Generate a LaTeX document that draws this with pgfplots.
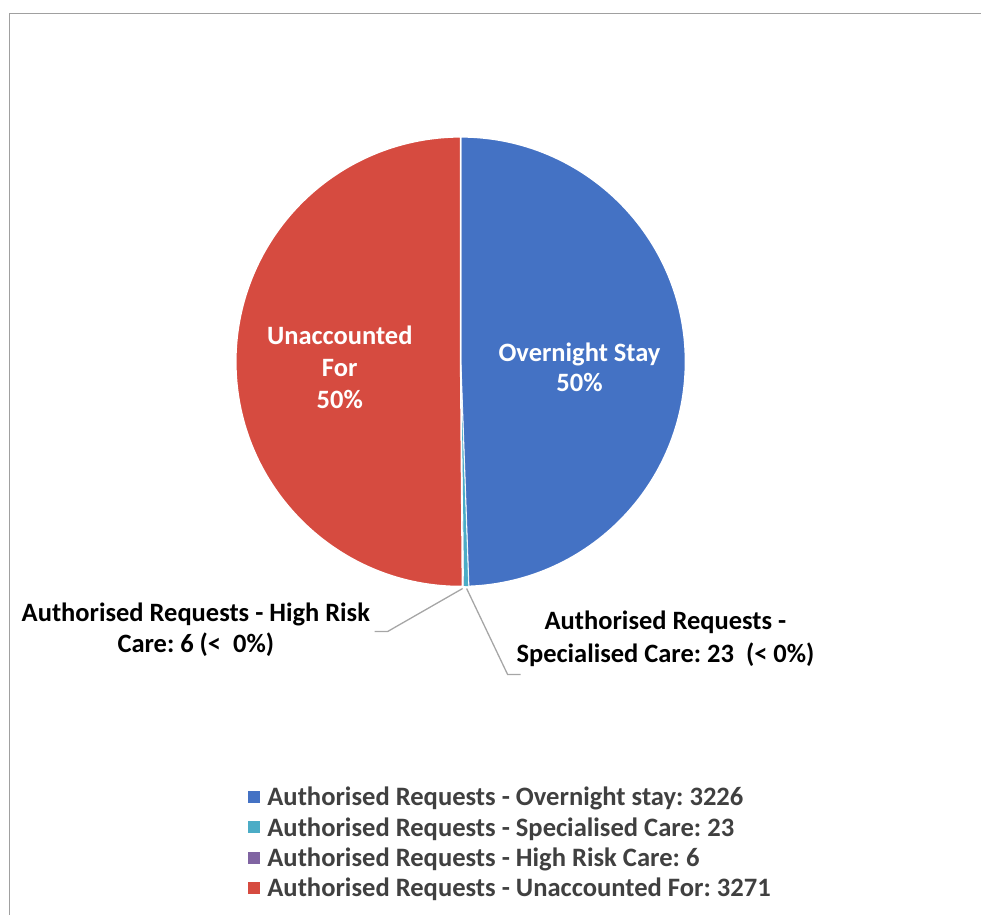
\documentclass[border=0pt]{standalone}
\usepackage{pgfplots}
\usepackage{pgfplotstable}
\pgfplotsset{compat=1.18}
\usepackage{fontspec}
\setmainfont{Carlito}
\frenchspacing

\definecolor{ovBlue}{HTML}{4472C4}
\definecolor{spTeal}{HTML}{4BACC6}
\definecolor{hrPurple}{HTML}{8064A2}
\definecolor{unRed}{HTML}{D64B40}
\definecolor{legendGray}{HTML}{404040}
\definecolor{leaderGray}{HTML}{A6A6A6}
\definecolor{frameGray}{HTML}{A0A0A0}

% Authorised requests by category
\pgfplotstableread{
value
3226
23
6
3271
}\piedata

\pgfplotstablegetelem{0}{value}\of\piedata \pgfmathsetmacro\vA{\pgfplotsretval}
\pgfplotstablegetelem{1}{value}\of\piedata \pgfmathsetmacro\vB{\pgfplotsretval}
\pgfplotstablegetelem{2}{value}\of\piedata \pgfmathsetmacro\vC{\pgfplotsretval}
\pgfplotstablegetelem{3}{value}\of\piedata \pgfmathsetmacro\vD{\pgfplotsretval}
\pgfmathsetmacro\total{\vA+\vB+\vC+\vD}
% slice boundaries, clockwise from 12 o'clock
\pgfmathsetmacro\aA{90}
\pgfmathsetmacro\aB{\aA-360*(\vA/\total)}
\pgfmathsetmacro\aC{\aB-360*(\vB/\total)}
\pgfmathsetmacro\aD{\aC-360*(\vC/\total)}
\pgfmathsetmacro\aE{\aD-360*(\vD/\total)}

\newcommand\pieR{225pt}

\begin{document}
\begin{tikzpicture}
\begin{axis}[
  x=1pt, y=1pt,
  xmin=0, xmax=982, ymin=0, ymax=916,
  hide axis, clip=false,
  anchor=origin, at={(0,0)},
  legend cell align=left,
  legend image code/.code={\fill[#1] (0pt,-3pt) rectangle (11pt,8pt);},
  legend style={
    draw=none, fill=none, inner sep=0pt,
    at={(axis cs:248,129)}, anchor=north west,
    font=\fontsize{26.6}{30}\selectfont\bfseries,
    text=legendGray,
    row sep=5.5pt,
    column sep=8pt,
    nodes={inner sep=0pt, text height=19pt, text depth=6pt},
  },
]
\path (axis cs:0,0) rectangle (axis cs:982,916);

% frame
\draw[frameGray, line width=1.6pt] (axis cs:9.5,0) -- (axis cs:9.5,902.5) -- (axis cs:982,902.5);

% slices
\fill[ovBlue, draw=white, line width=1.5pt, line join=round]
  (axis cs:461,554) -- ++(\aA:\pieR) arc[start angle=\aA, end angle=\aB, radius=\pieR] -- cycle;
\fill[spTeal, draw=white, line width=0.6pt, line join=round]
  (axis cs:461,554) -- ++(\aB:\pieR) arc[start angle=\aB, end angle=\aC, radius=\pieR] -- cycle;
\fill[hrPurple, draw=white, line width=0.6pt, line join=round]
  (axis cs:461,554) -- ++(\aC:\pieR) arc[start angle=\aC, end angle=\aD, radius=\pieR] -- cycle;
\fill[unRed, draw=white, line width=1.5pt, line join=round]
  (axis cs:461,554) -- ++(\aD:\pieR) arc[start angle=\aD, end angle=\aE, radius=\pieR] -- cycle;

% legend entries
\addlegendimage{ovBlue}
\addlegendentry{Authorised Requests - Overnight stay: 3226}
\addlegendimage{spTeal}
\addlegendentry{Authorised Requests - Specialised Care: 23}
\addlegendimage{hrPurple}
\addlegendentry{Authorised Requests - High Risk Care: 6}
\addlegendimage{unRed}
\addlegendentry{Authorised Requests - Unaccounted For: 3271}

% in-slice labels
\node[white, font=\fontsize{26.5}{30}\selectfont\bfseries, align=center]
  at (axis cs:580,548) {Overnight Stay\\50\%};
\node[white, font=\fontsize{26.5}{32}\selectfont\bfseries, align=center]
  at (axis cs:340,548) {Unaccounted\\For\\50\%};

% leader lines
\draw[leaderGray, line width=1.3pt] (axis cs:463,327) -- (axis cs:388,284) -- (axis cs:375,284);
\draw[leaderGray, line width=1.3pt] (axis cs:467,327) -- (axis cs:508,241) -- (axis cs:521,241);

% outside labels
\node[black, font=\fontsize{26.5}{31}\selectfont\bfseries, align=center]
  at (axis cs:196,286) {Authorised Requests - High Risk\\Care: 6 (<\ \ 0\%)};
\node[black, font=\fontsize{26.5}{33}\selectfont\bfseries, align=center]
  at (axis cs:666,277) {Authorised Requests -\\Specialised Care: 23\ \ (< 0\%)};
\end{axis}
\end{tikzpicture}
\end{document}
